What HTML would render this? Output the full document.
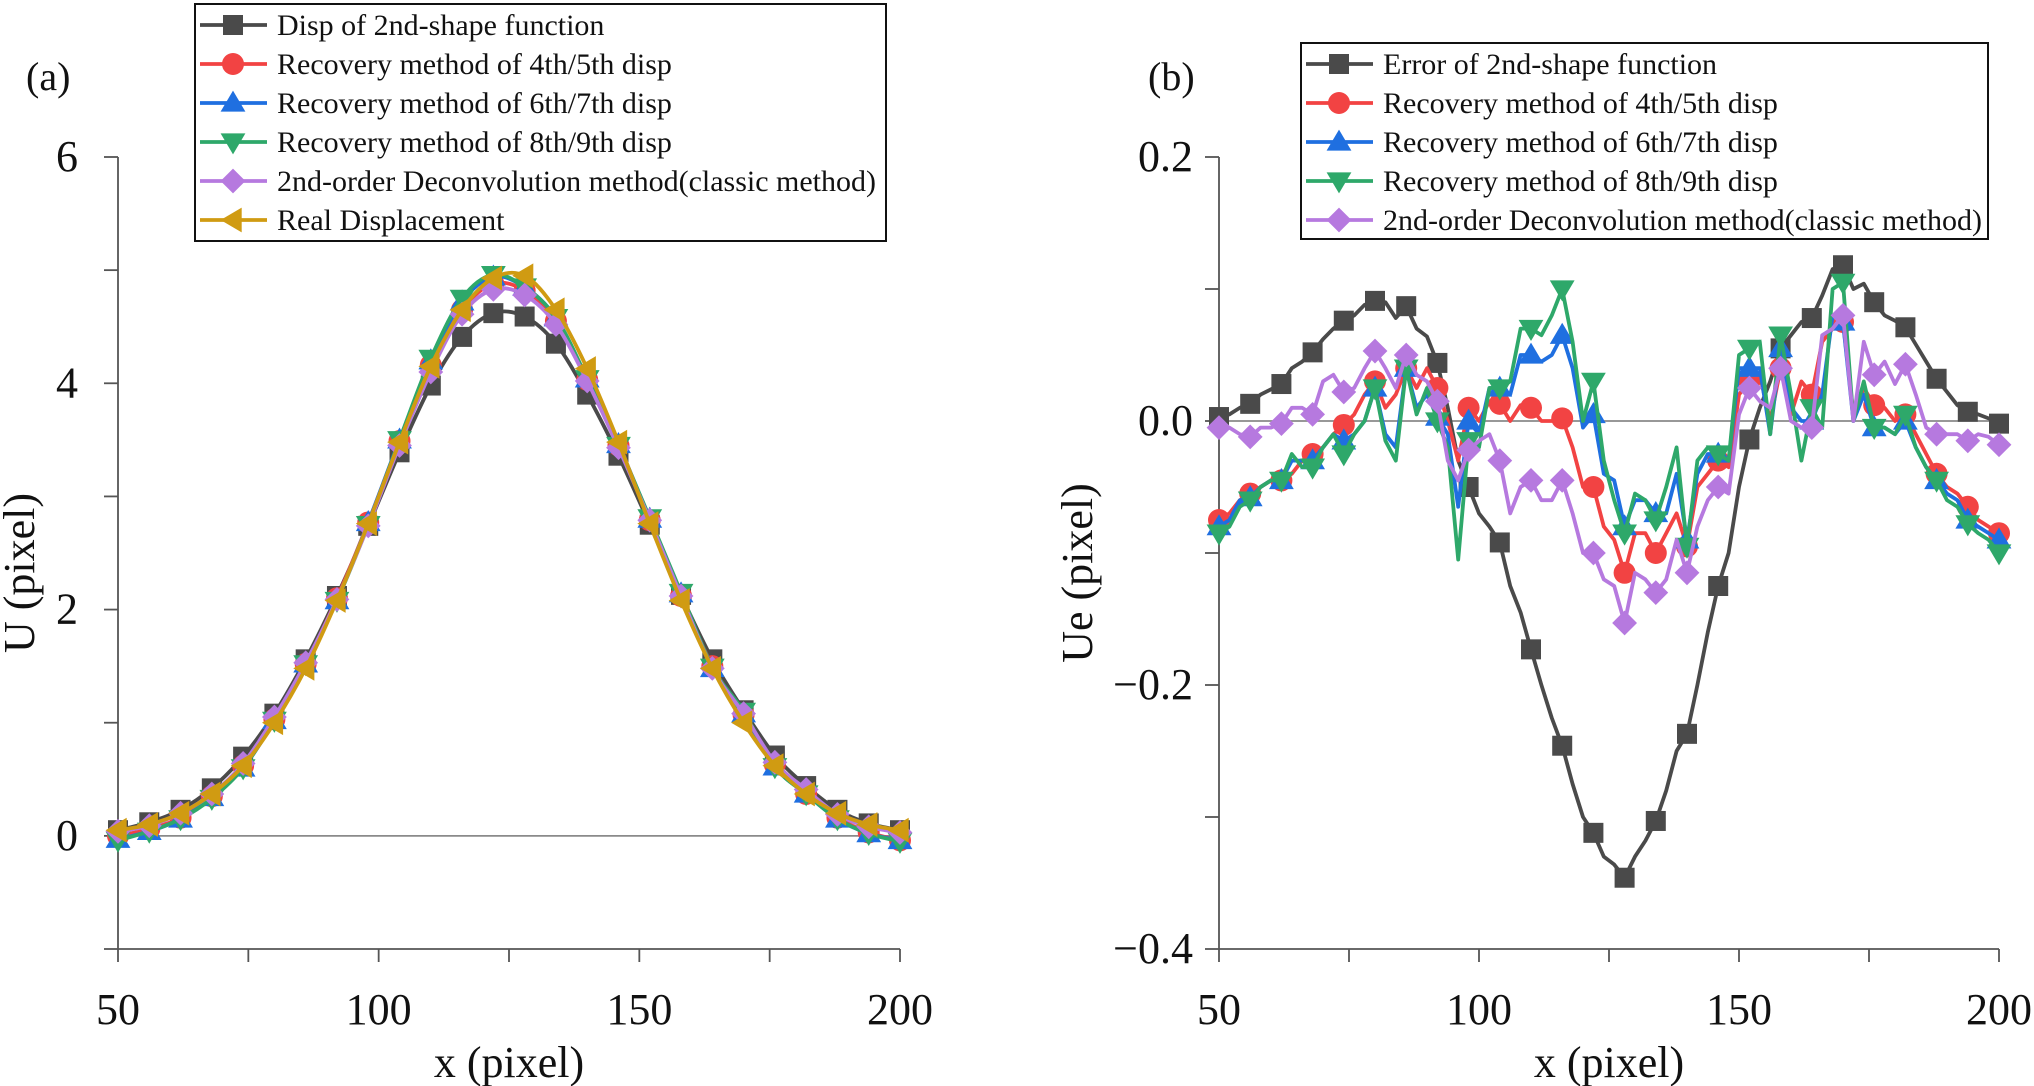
<!DOCTYPE html>
<html><head><meta charset="utf-8"><style>
body{margin:0;background:#fff;}
svg{display:block;font-family:"Liberation Serif",serif;}
</style></head><body>
<svg id="fig" width="2034" height="1086" viewBox="0 0 2034 1086"></svg>
<script>
// ---------- Panel (a) data ----------
const xA = [50,56,62,68,74,80,86,92,98,104,110,116,122,128,134,140,146,152,158,164,170,176,182,188,194,200];
const aDisp2 = [0.05,0.12,0.23,0.42,0.7,1.08,1.56,2.12,2.74,3.39,3.98,4.41,4.62,4.59,4.35,3.9,3.36,2.75,2.13,1.56,1.11,0.71,0.44,0.23,0.11,0.05];
const aRec45 = [0.0,0.06,0.16,0.35,0.62,1.03,1.52,2.1,2.77,3.49,4.16,4.65,4.88,4.82,4.55,4.03,3.45,2.79,2.12,1.5,1.07,0.63,0.37,0.16,0.03,-0.04];
const aRec67 = [-0.03,0.04,0.15,0.34,0.6,1.02,1.52,2.08,2.77,3.5,4.2,4.72,4.94,4.85,4.58,4.04,3.46,2.8,2.14,1.48,1.08,0.61,0.37,0.15,0.02,-0.04];
const aRec89 = [-0.04,0.04,0.15,0.33,0.6,1.02,1.52,2.08,2.75,3.5,4.22,4.75,4.96,4.85,4.58,4.04,3.45,2.81,2.15,1.49,1.1,0.61,0.37,0.15,0.02,-0.05];
const aDeconv = [0.04,0.09,0.2,0.37,0.64,1.05,1.53,2.09,2.74,3.45,4.1,4.61,4.83,4.78,4.52,4.02,3.43,2.79,2.12,1.48,1.08,0.65,0.41,0.19,0.08,0.03];
const aReal = [0.05,0.1,0.2,0.37,0.62,1.0,1.48,2.08,2.76,3.48,4.15,4.65,4.93,4.95,4.65,4.13,3.48,2.76,2.08,1.48,1.0,0.62,0.37,0.2,0.1,0.05];
const aYTicks = [0,2,4,6];
const aYMinor = [-1,1,3,5];
const xTicks = [50,100,150,200];
const xMinor = [75,125,175];
// ---------- Panel (b) data (step 2, markers every 6) ----------
const xB = [50,52,54,56,58,60,62,64,66,68,70,72,74,76,78,80,82,84,86,88,90,92,94,96,98,100,102,104,106,108,110,112,114,116,118,120,122,124,126,128,130,132,134,136,138,140,142,144,146,148,150,152,154,156,158,160,162,164,166,168,170,172,174,176,178,180,182,184,186,188,190,192,194,196,198,200];
const bErr2 = [0.003,0.005,0.01,0.013,0.02,0.024,0.028,0.04,0.045,0.052,0.062,0.07,0.076,0.08,0.088,0.091,0.09,0.078,0.087,0.07,0.064,0.044,0.01,-0.03,-0.05,-0.07,-0.08,-0.092,-0.125,-0.145,-0.173,-0.2,-0.225,-0.246,-0.275,-0.3,-0.312,-0.33,-0.336,-0.346,-0.33,-0.318,-0.303,-0.28,-0.25,-0.237,-0.2,-0.16,-0.125,-0.1,-0.05,-0.014,0.01,0.03,0.055,0.065,0.075,0.078,0.095,0.115,0.118,0.1,0.104,0.09,0.08,0.076,0.071,0.058,0.045,0.032,0.022,0.012,0.007,0.005,0.002,-0.002];
const bRec45 = [-0.075,-0.07,-0.06,-0.055,-0.05,-0.045,-0.045,-0.04,-0.03,-0.025,-0.02,-0.01,-0.003,0.005,0.02,0.03,0.01,0.02,0.04,0.025,0.04,0.025,0.0,-0.03,0.01,0.0,0.015,0.013,0.0,0.012,0.01,0.0,0.0,0.002,-0.02,-0.05,-0.05,-0.08,-0.09,-0.115,-0.085,-0.085,-0.1,-0.085,-0.07,-0.095,-0.05,-0.04,-0.03,-0.035,0.02,0.03,0.035,0.0,0.04,0.005,0.03,0.02,0.06,0.07,0.075,0.005,0.025,0.012,0.01,0.0,0.005,-0.01,-0.025,-0.04,-0.05,-0.055,-0.065,-0.075,-0.08,-0.085];
const bRec67 = [-0.08,-0.075,-0.06,-0.058,-0.05,-0.045,-0.045,-0.03,-0.03,-0.03,-0.02,-0.01,-0.015,-0.01,0.0,0.025,-0.01,-0.02,0.04,0.01,0.02,0.003,-0.01,-0.065,0.0,-0.01,0.025,0.025,0.02,0.05,0.05,0.045,0.05,0.065,0.04,-0.005,0.005,-0.04,-0.045,-0.08,-0.06,-0.06,-0.07,-0.07,-0.04,-0.09,-0.04,-0.025,-0.025,-0.03,0.04,0.04,0.04,-0.01,0.055,0.01,0.0,0.0,0.02,0.08,0.075,0.0,0.02,-0.005,-0.005,-0.01,0.0,-0.02,-0.035,-0.045,-0.055,-0.06,-0.075,-0.08,-0.085,-0.09];
const bRec89 = [-0.085,-0.08,-0.065,-0.06,-0.05,-0.045,-0.045,-0.025,-0.035,-0.035,-0.02,-0.01,-0.025,-0.01,0.0,0.025,-0.015,-0.03,0.04,0.005,0.025,0.0,-0.02,-0.105,-0.015,-0.02,0.025,0.025,0.03,0.07,0.07,0.065,0.08,0.1,0.06,0.0,0.03,-0.03,-0.06,-0.085,-0.055,-0.06,-0.075,-0.05,-0.02,-0.095,-0.03,-0.02,-0.025,-0.03,0.05,0.055,0.06,-0.01,0.065,0.02,-0.03,0.01,-0.005,0.1,0.105,0.0,0.03,-0.005,-0.005,-0.01,0.005,-0.02,-0.035,-0.045,-0.06,-0.065,-0.078,-0.085,-0.09,-0.1];
const bDeconv = [-0.005,-0.005,-0.01,-0.012,-0.005,-0.005,-0.002,0.01,0.01,0.005,0.03,0.035,0.022,0.025,0.04,0.053,0.04,0.025,0.05,0.035,0.03,0.015,-0.03,-0.045,-0.022,-0.015,-0.01,-0.03,-0.07,-0.05,-0.045,-0.06,-0.06,-0.045,-0.07,-0.1,-0.1,-0.12,-0.125,-0.153,-0.115,-0.12,-0.13,-0.12,-0.09,-0.115,-0.08,-0.06,-0.05,-0.055,0.005,0.025,0.015,0.01,0.04,0.0,-0.005,-0.005,0.065,0.07,0.08,0.0,0.06,0.035,0.045,0.028,0.043,0.02,-0.005,-0.01,-0.01,-0.01,-0.015,-0.01,-0.012,-0.018];
const bYTicks = [0.2,0.0,-0.2,-0.4];
const bYMinor = [0.1,-0.1,-0.3];

const NS = "http://www.w3.org/2000/svg";
const svg = document.getElementById('fig');
function mk(tag, attrs, parent){
  const e = document.createElementNS(NS, tag);
  for (const k in attrs) e.setAttribute(k, attrs[k]);
  (parent||svg).appendChild(e);
  return e;
}
function smoothPath(pts){
  let d = `M${pts[0][0]},${pts[0][1]}`;
  for (let i=0;i<pts.length-1;i++){
    const p0=pts[Math.max(0,i-1)], p1=pts[i], p2=pts[i+1], p3=pts[Math.min(pts.length-1,i+2)];
    const c1x=p1[0]+(p2[0]-p0[0])/6, c1y=p1[1]+(p2[1]-p0[1])/6;
    const c2x=p2[0]-(p3[0]-p1[0])/6, c2y=p2[1]-(p3[1]-p1[1])/6;
    d += ` C${c1x},${c1y} ${c2x},${c2y} ${p2[0]},${p2[1]}`;
  }
  return d;
}
function marker(g, shape, cx, cy, color, s){
  let e;
  if (shape==='square') e = mk('rect',{x:cx-s*0.5,y:cy-s*0.5,width:s,height:s,fill:color},g);
  else if (shape==='circle') e = mk('circle',{cx:cx,cy:cy,r:s*0.55,fill:color},g);
  else {
    let p;
    const r=s*0.62;
    if (shape==='up') p=[[cx,cy-r],[cx+r,cy+r*0.7],[cx-r,cy+r*0.7]];
    else if (shape==='down') p=[[cx,cy+r],[cx+r,cy-r*0.7],[cx-r,cy-r*0.7]];
    else if (shape==='diamond') p=[[cx,cy-r],[cx+r,cy],[cx,cy+r],[cx-r,cy]];
    else p=[[cx-r,cy],[cx+r*0.7,cy-r],[cx+r*0.7,cy+r]];
    e = mk('polygon',{points:p.map(q=>q.join(',')).join(' '),fill:color},g);
  }
  
  
}

function panel(cfg){
  const g = mk('g',{});
  
  
  const sx = v => cfg.x0 + (v-50)/150*(cfg.x1-cfg.x0);
  const sy = v => cfg.y0 + (cfg.ymax - v)/(cfg.ymax-cfg.ymin)*(cfg.y1-cfg.y0);
  const z = mk('line',{x1:cfg.x0,x2:cfg.x1,y1:sy(0),y2:sy(0),stroke:'#8a8a8a','stroke-width':1.8},g);
   
  const ax = mk('path',{d:`M${cfg.x0},${cfg.y0} L${cfg.x0},${cfg.y1} L${cfg.x1},${cfg.y1}`,fill:'none',stroke:'#555','stroke-width':1.8},g);
   
  cfg.yt.concat(cfg.ym).forEach(v=>{
    mk('line',{x1:cfg.x0-14,x2:cfg.x0,y1:sy(v),y2:sy(v),stroke:'#555','stroke-width':1.8},g);
  });
  cfg.yt.forEach((v,i)=>{
    const t = mk('text',{x:cfg.x0-cfg.yoff,y:sy(v)+14,'text-anchor':'end','font-size':44,fill:'#111'},g);
    t.textContent = cfg.ylab[i];
     
  });
  xTicks.concat(xMinor).forEach(v=>{
    mk('line',{x1:sx(v),x2:sx(v),y1:cfg.y1,y2:cfg.y1+13,stroke:'#555','stroke-width':1.8},g);
  });
  xTicks.forEach(v=>{
    const t = mk('text',{x:sx(v),y:cfg.y1+75,'text-anchor':'middle','font-size':44,fill:'#111'},g);
    t.textContent = String(v);
     
  });
  const xt = mk('text',{x:(cfg.x0+cfg.x1)/2,y:1077,'text-anchor':'middle','font-size':44,fill:'#111'},g);
  xt.textContent = 'x (pixel)';
   
  const yt = mk('text',{x:0,y:0,'text-anchor':'middle','font-size':44,fill:'#111',transform:`translate(${cfg.ytx},${(cfg.y0+cfg.y1)/2+20}) rotate(-90)`},g);
  yt.textContent = cfg.ytitle;
   
  const pl = mk('text',{x:cfg.plx,y:90,'font-size':40,fill:'#111'},g);
  pl.textContent = cfg.plabel;
   
  cfg.series.forEach(s=>{
    const sg = mk('g',{},g);
    
    
    const pts = s.ys.map((v,i)=>[sx(s.xs[i]), sy(v)]);
    const d = cfg.smooth ? smoothPath(pts) : 'M'+pts.map(p=>p.join(',')).join(' L');
    const ln = mk('path',{d:d,fill:'none',stroke:s.color,'stroke-width':3.8,'stroke-linejoin':'round'},sg);
    
    
    pts.forEach((p,i)=>{ if (i % cfg.every === 0) marker(sg, s.shape, p[0], p[1], s.color, 20); });
  });
  const lg = mk('g',{},g);
   
  const lb = mk('rect',{x:cfg.lx,y:cfg.ly,width:cfg.lw,height:cfg.lh,fill:'#fff',stroke:'#111','stroke-width':2},lg);
   
  cfg.series.forEach((s,i)=>{
    const yy = cfg.ly + 21 + i*39;
    const eg = mk('g',{},lg);
     
    mk('line',{x1:cfg.lx+5,x2:cfg.lx+72,y1:yy,y2:yy,stroke:s.color,'stroke-width':3.8},eg);
    marker(eg, s.shape, cfg.lx+38, yy, s.color, 20);
    const t = mk('text',{x:cfg.lx+82,y:yy+10,'font-size':30,fill:'#111'},eg);
    t.textContent = s.label;
  });
}

const C = {k:'#4a4a4a', r:'#f24343', b:'#1f6fe0', g:'#2ea86a', p:'#b679df', o:'#d09b12'};
panel({
  name:'panel-a', x0:118, x1:900, y0:157, y1:949, ymin:-1, ymax:6,
  yt:aYTicks, ym:aYMinor, ylab:['0','2','4','6'], yoff:40, ytitle:'U (pixel)', ytx:34, plabel:'(a)', plx:26,
  smooth:true, every:1, lx:195, ly:4, lw:691, lh:237,
  series:[
    {key:'disp-2nd-shape', label:'Disp of 2nd-shape function', xs:xA, ys:aDisp2, color:C.k, shape:'square'},
    {key:'recovery-4-5', label:'Recovery method of 4th/5th disp', xs:xA, ys:aRec45, color:C.r, shape:'circle'},
    {key:'recovery-6-7', label:'Recovery method of 6th/7th disp', xs:xA, ys:aRec67, color:C.b, shape:'up'},
    {key:'recovery-8-9', label:'Recovery method of 8th/9th disp', xs:xA, ys:aRec89, color:C.g, shape:'down'},
    {key:'deconvolution', label:'2nd-order Deconvolution method(classic method)', xs:xA, ys:aDeconv, color:C.p, shape:'diamond'},
    {key:'real-displacement', label:'Real Displacement', xs:xA, ys:aReal, color:C.o, shape:'left'}
  ]
});
panel({
  name:'panel-b', x0:1219, x1:1999, y0:157, y1:949, ymin:-0.4, ymax:0.2,
  yt:bYTicks, ym:bYMinor, ylab:['0.2','0.0','\u22120.2','\u22120.4'], yoff:26, ytitle:'Ue (pixel)', ytx:1092, plabel:'(b)', plx:1148,
  smooth:false, every:3, lx:1301, ly:43, lw:687, lh:196,
  series:[
    {key:'error-2nd-shape', label:'Error of 2nd-shape function', xs:xB, ys:bErr2, color:C.k, shape:'square'},
    {key:'recovery-4-5', label:'Recovery method of 4th/5th disp', xs:xB, ys:bRec45, color:C.r, shape:'circle'},
    {key:'recovery-6-7', label:'Recovery method of 6th/7th disp', xs:xB, ys:bRec67, color:C.b, shape:'up'},
    {key:'recovery-8-9', label:'Recovery method of 8th/9th disp', xs:xB, ys:bRec89, color:C.g, shape:'down'},
    {key:'deconvolution', label:'2nd-order Deconvolution method(classic method)', xs:xB, ys:bDeconv, color:C.p, shape:'diamond'}
  ]
});
</script>
</body></html>
